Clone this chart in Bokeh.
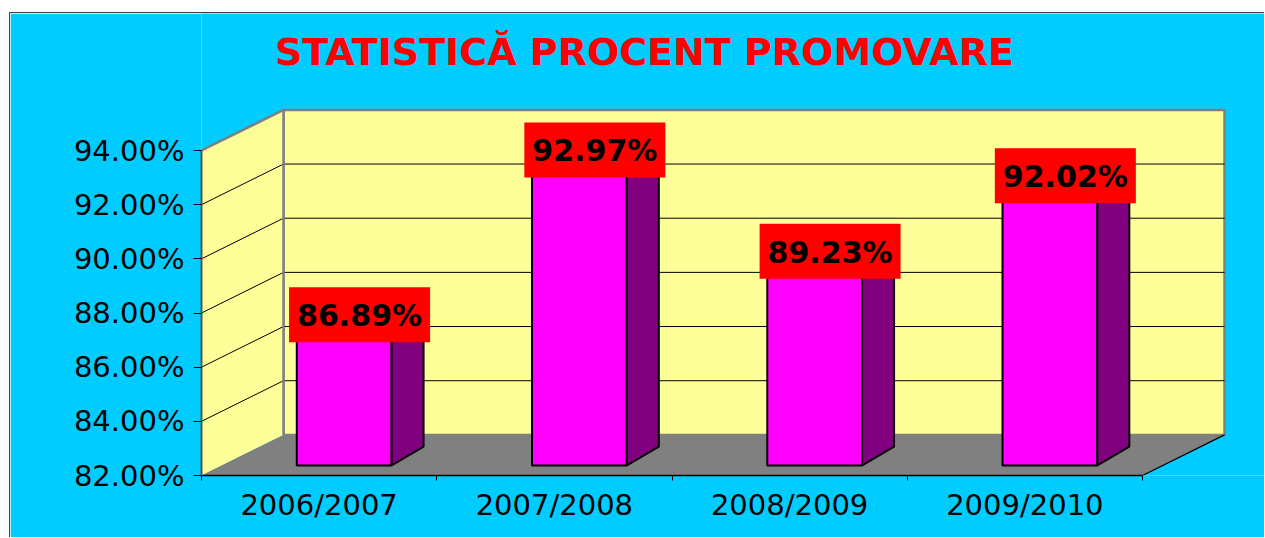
from bokeh.plotting import figure
from bokeh.models import ColumnDataSource, FixedTicker, PrintfTickFormatter, Label
from bokeh.embed import file_html
from bokeh.resources import INLINE
from bokeh.core.properties import value

# ---- data ----
categories = ["2006/2007", "2007/2008", "2008/2009", "2009/2010"]
percent = [86.89, 92.97, 89.23, 92.02]
y_ticks = [82, 84, 86, 88, 90, 92, 94]
title_text = "STATISTICĂ PROCENT PROMOVARE"

# ---- geometry (styling / layout) ----
Y_MIN, Y_MAX = y_ticks[0], y_ticks[-1]
N = len(categories)
PX_X, PX_Y = 235.25, 27.083    # pixels per category / per percent
DX, DY = 0.3486, 1.5           # depth of the 3D box (x units, % units)
B = 0.369                      # depth offset of the bar front face (%)
FL, FR = 0.405, 0.808          # bar front face left / right in a category
SDX, SDY = 0.136, 0.70         # bar side depth

CYAN = "#00CCFF"
WALL = "#FFFF99"
FLOOR = "#808080"

W, H = 1255, 525
LEFT, BOTTOM = 191, 63
p = figure(width=W, height=H,
           x_range=(0, (W - LEFT) / PX_X), y_range=(82, 82 + (H - BOTTOM) / PX_Y),
           output_backend="svg", toolbar_location=None,
           min_border_left=LEFT, min_border_right=0, min_border_top=0, min_border_bottom=BOTTOM,
           background_fill_color=CYAN, border_fill_color=CYAN, outline_line_color=None)
p.margin = (12, 0, 0, 9)
p.styles = {"border-top": "1px solid #404040", "border-left": "1px solid #404040"}
p.xgrid.visible = False
p.ygrid.visible = False

# back wall
p.quad(left=[DX], right=[N + DX], bottom=[Y_MIN + DY], top=[Y_MAX + DY],
       fill_color=WALL, line_color="#808080", line_width=2.5)
# side wall
p.patch([0, DX, DX, 0], [Y_MIN, Y_MIN + DY, Y_MAX + DY, Y_MAX],
        fill_color=WALL, line_color=None)
p.line([0, DX], [Y_MAX, Y_MAX + DY], line_color="#808080", line_width=2.5)
# floor
p.patch([0, N, N + DX, DX], [Y_MIN, Y_MIN, Y_MIN + DY, Y_MIN + DY],
        fill_color=FLOOR, line_color=None)
p.line([N, N + DX], [Y_MIN, Y_MIN + DY], line_color="black", line_width=1.2)

# gridlines (side wall + back wall)
grid_vals = [t for t in y_ticks if Y_MIN < t < Y_MAX]
p.multi_line(xs=[[0, DX, N + DX] for _ in grid_vals],
             ys=[[t, t + DY, t + DY] for t in grid_vals],
             line_color="black", line_width=1)
p.line([DX, DX], [Y_MIN + DY, Y_MAX + DY], line_color="#808080", line_width=2.5)

# bars
idx = list(range(N))
front = ColumnDataSource(dict(
    left=[i + FL for i in idx], right=[i + FR for i in idx],
    bottom=[Y_MIN + B] * N, top=[v + B for v in percent]))
p.quad(left="left", right="right", bottom="bottom", top="top", source=front,
       fill_color="#FF00FF", line_color="black", line_width=2)
side_xs = [[i + FR, i + FR + SDX, i + FR + SDX, i + FR] for i in idx]
side_ys = [[Y_MIN + B, Y_MIN + B + SDY, v + B + SDY, v + B] for v in percent]
p.patches(side_xs, side_ys, fill_color="#800080", line_color="black", line_width=2)
top_xs = [[i + FL, i + FR, i + FR + SDX, i + FL + SDX] for i in idx]
top_ys = [[v + B, v + B, v + B + SDY, v + B + SDY] for v in percent]
p.patches(top_xs, top_ys, fill_color="#CC00CC", line_color="black", line_width=2)

# data labels
lab = ColumnDataSource(dict(
    x=[i + 0.672 for i in idx], y=[v + 1.05 for v in percent],
    text=[f"{v:.2f}%" for v in percent]))
p.rect(x="x", y="y", width=141, height=55, width_units="screen", height_units="screen",
       source=lab, fill_color="#FF0000", line_color=None)
p.text(x="x", y="y", text="text", source=lab, text_align="center", text_baseline="middle",
       text_font=value("DejaVu Sans"), text_font_style="bold", text_font_size="30px",
       text_color="black", y_offset=1)

# title
p.add_layout(Label(x=1.883, y=82 + (475 - 51) / PX_Y, text=title_text,
                   text_align="center", text_baseline="alphabetic",
                   text_font="DejaVu Sans", text_font_style="bold", text_font_size="38px",
                   text_color="#FF0000"))

# axes
ya = p.yaxis[0]
ya.ticker = FixedTicker(ticks=y_ticks)
ya.formatter = PrintfTickFormatter(format="%.2f%%")
ya.bounds = (Y_MIN, Y_MAX)
ya.axis_line_color = "#555555"
ya.axis_line_width = 2
ya.major_tick_out = 8
ya.major_tick_in = 0
ya.major_tick_line_color = "black"
ya.minor_tick_line_color = None
ya.major_label_standoff = 9
ya.major_label_text_font = "DejaVu Sans"
ya.major_label_text_font_size = "29px"
ya.major_label_text_color = "black"

xa = p.xaxis[0]
xa.ticker = FixedTicker(ticks=[i + 0.5 for i in idx], minor_ticks=list(range(N + 1)))
xa.major_label_overrides = {i + 0.5: c for i, c in zip(idx, categories)}
xa.bounds = (0, N)
xa.axis_line_color = "black"
xa.axis_line_width = 1.5
xa.major_tick_line_color = None
xa.major_tick_out = 0
xa.major_tick_in = 0
xa.minor_tick_line_color = "black"
xa.minor_tick_out = 5
xa.minor_tick_in = 0
xa.major_label_standoff = 7
xa.major_label_text_font = "DejaVu Sans"
xa.major_label_text_font_size = "29px"
xa.major_label_text_color = "black"

open("out.html", "w").write(file_html(p, INLINE))
